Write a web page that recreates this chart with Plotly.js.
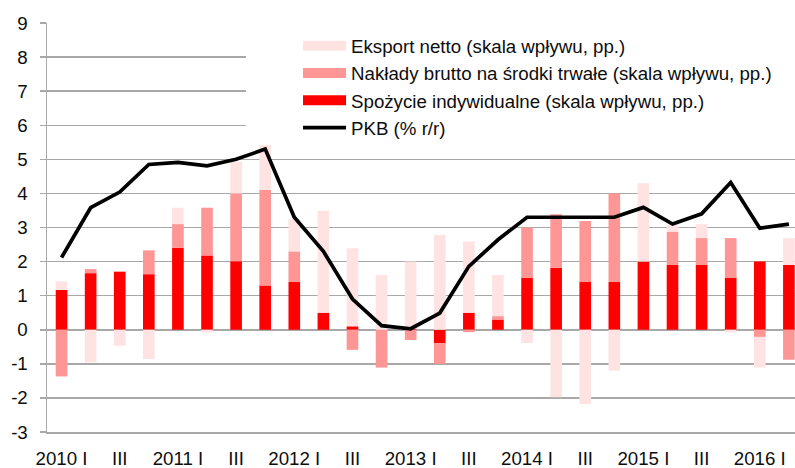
<!DOCTYPE html>
<html>
<head>
<meta charset="utf-8">
<script src="https://cdn.plot.ly/plotly-3.0.1.min.js"></script>
<style>html,body{margin:0;padding:0;background:#fff;}#chart{width:795px;height:468px;}</style>
</head>
<body>
<div id="chart"></div>
<script>
// Quarters 2010 I – 2016 II
const quarters = [
  '2010 I','2010 II','2010 III','2010 IV',
  '2011 I','2011 II','2011 III','2011 IV',
  '2012 I','2012 II','2012 III','2012 IV',
  '2013 I','2013 II','2013 III','2013 IV',
  '2014 I','2014 II','2014 III','2014 IV',
  '2015 I','2015 II','2015 III','2015 IV',
  '2016 I','2016 II'
];
const tickVals = ['2010 I','2010 III','2011 I','2011 III','2012 I','2012 III','2013 I','2013 III','2014 I','2014 III','2015 I','2015 III','2016 I'];
const tickText = ['2010 I','III','2011 I','III','2012 I','III','2013 I','III','2014 I','III','2015 I','III','2016 I'];
const yTickVals = [-3, -2, -1, 0, 1, 2, 3, 4, 5, 6, 7, 8, 9];
const yTickText = ['-3', '-2', '-1', '0', '1', '2', '3', '4', '5', '6', '7', '8', '9'];

// Spożycie indywidualne (pp.)
const consumption = [1.17, 1.66, 1.70, 1.63, 2.40, 2.18, 2.01, 1.30, 1.40, 0.50, 0.10, 0.00, 0.02, -0.40, 0.50, 0.30, 1.53, 1.82, 1.40, 1.40, 2.00, 1.90, 1.90, 1.53, 2.00, 1.90];
// Nakłady brutto na środki trwałe (pp.)
const investment = [-1.37, 0.12, 0.02, 0.70, 0.70, 1.40, 1.99, 2.80, 0.90, 0.00, -0.59, -1.11, -0.30, -0.60, -0.07, 0.10, 1.47, 1.57, 1.79, 2.60, 0.00, 0.98, 0.79, 1.16, -0.21, -0.88];
// Eksport netto (pp.)
const netExport = [0.25, -0.96, -0.47, -0.86, 0.48, -0.08, 0.93, 1.32, 0.95, 2.99, 2.29, 1.61, 1.98, 2.78, 2.09, 1.21, -0.39, -1.98, -2.18, -1.20, 2.30, 0.20, 0.41, -0.08, -0.90, 0.79];
// PKB (% r/r)
const gdp = [2.12, 3.58, 4.04, 4.85, 4.91, 4.81, 5.00, 5.30, 3.30, 2.30, 0.90, 0.12, 0.03, 0.49, 1.86, 2.64, 3.30, 3.30, 3.30, 3.30, 3.59, 3.10, 3.40, 4.32, 2.98, 3.10];

const names = {
  exp: 'Eksport netto (skala wpływu, pp.)',
  inv: 'Nakłady brutto na środki trwałe (skala wpływu, pp.)',
  con: 'Spożycie indywidualne (skala wpływu, pp.)',
  gdp: 'PKB (% r/r)'
};
const colors = {con: '#ff0000', inv: '#ff9696', exp: '#ffe3e3', gdp: '#000000'};

const FONT = 'Liberation Sans, Arial, sans-serif';
const GRID = '#a8a8a8';
const TXT = '#0d0d0d';

const traces = [
  {type: 'bar', x: quarters, y: consumption, name: names.con, marker: {color: colors.con}, showlegend: false},
  {type: 'bar', x: quarters, y: investment, name: names.inv, marker: {color: colors.inv}, showlegend: false},
  {type: 'bar', x: quarters, y: netExport, name: names.exp, marker: {color: colors.exp}, showlegend: false},
  {type: 'scatter', mode: 'lines', x: quarters, y: gdp, name: names.gdp, line: {color: colors.gdp, width: 3.7}, legendrank: 4},
  // legend-only entries (wide swatches)
  {type: 'scatter', mode: 'lines', x: [null], y: [null], name: names.exp, line: {color: colors.exp, width: 12}, legendrank: 1, hoverinfo: 'skip'},
  {type: 'scatter', mode: 'lines', x: [null], y: [null], name: names.inv, line: {color: colors.inv, width: 12}, legendrank: 2, hoverinfo: 'skip'},
  {type: 'scatter', mode: 'lines', x: [null], y: [null], name: names.con, line: {color: colors.con, width: 12}, legendrank: 3, hoverinfo: 'skip'}
];

const layout = {
  width: 795, height: 468,
  margin: {l: 47, r: 0, t: 23, b: 36},
  paper_bgcolor: '#ffffff', plot_bgcolor: '#ffffff',
  font: {family: FONT, size: 18.7, color: TXT},
  barmode: 'relative',
  bargap: 0.6,
  showlegend: true,
  legend: {
    x: 0.3356, xanchor: 'left', y: 0.99, yanchor: 'top',
    bgcolor: 'rgba(255,255,255,0)', borderwidth: 0,
    itemwidth: 43, font: {family: FONT, size: 18.7, color: TXT},
    tracegroupgap: 0
  },
  xaxis: {
    type: 'category', range: [-0.5, 25.21],
    tickmode: 'array', tickvals: tickVals, ticktext: tickText,
    ticks: '', showgrid: false, zeroline: false,
    showline: true, linecolor: GRID, linewidth: 1.5,
    tickfont: {family: FONT, size: 18.7, color: TXT},
    ticklabelstandoff: 9
  },
  xaxis2: {
    overlaying: 'x', anchor: 'free', position: 0.25,
    type: 'linear', range: [-0.5, 25.21],
    tickmode: 'linear', tick0: 0.5, dtick: 1,
    ticks: 'outside', ticklen: 6, tickwidth: 1.5, tickcolor: GRID,
    showticklabels: false, showgrid: false, zeroline: false, showline: false
  },
  yaxis: {
    range: [-3, 9], tickmode: 'array', tickvals: yTickVals, ticktext: yTickText,
    showgrid: true, gridcolor: GRID, gridwidth: 1.5,
    zeroline: true, zerolinecolor: GRID, zerolinewidth: 1.5,
    showline: true, linecolor: GRID, linewidth: 1.5,
    ticks: 'outside', ticklen: 6, tickwidth: 1.5, tickcolor: GRID,
    tickfont: {family: FONT, size: 18.7, color: TXT},
    ticklabelstandoff: 8
  },
  shapes: [{
    type: 'rect', xref: 'paper', yref: 'y', x0: 0.266, x1: 1, y0: 5.6, y1: 8.6,
    fillcolor: '#ffffff', line: {width: 0}, layer: 'above'
  }]
};

Plotly.newPlot('chart', traces, layout, {staticPlot: true, displayModeBar: false});
</script>
</body>
</html>
